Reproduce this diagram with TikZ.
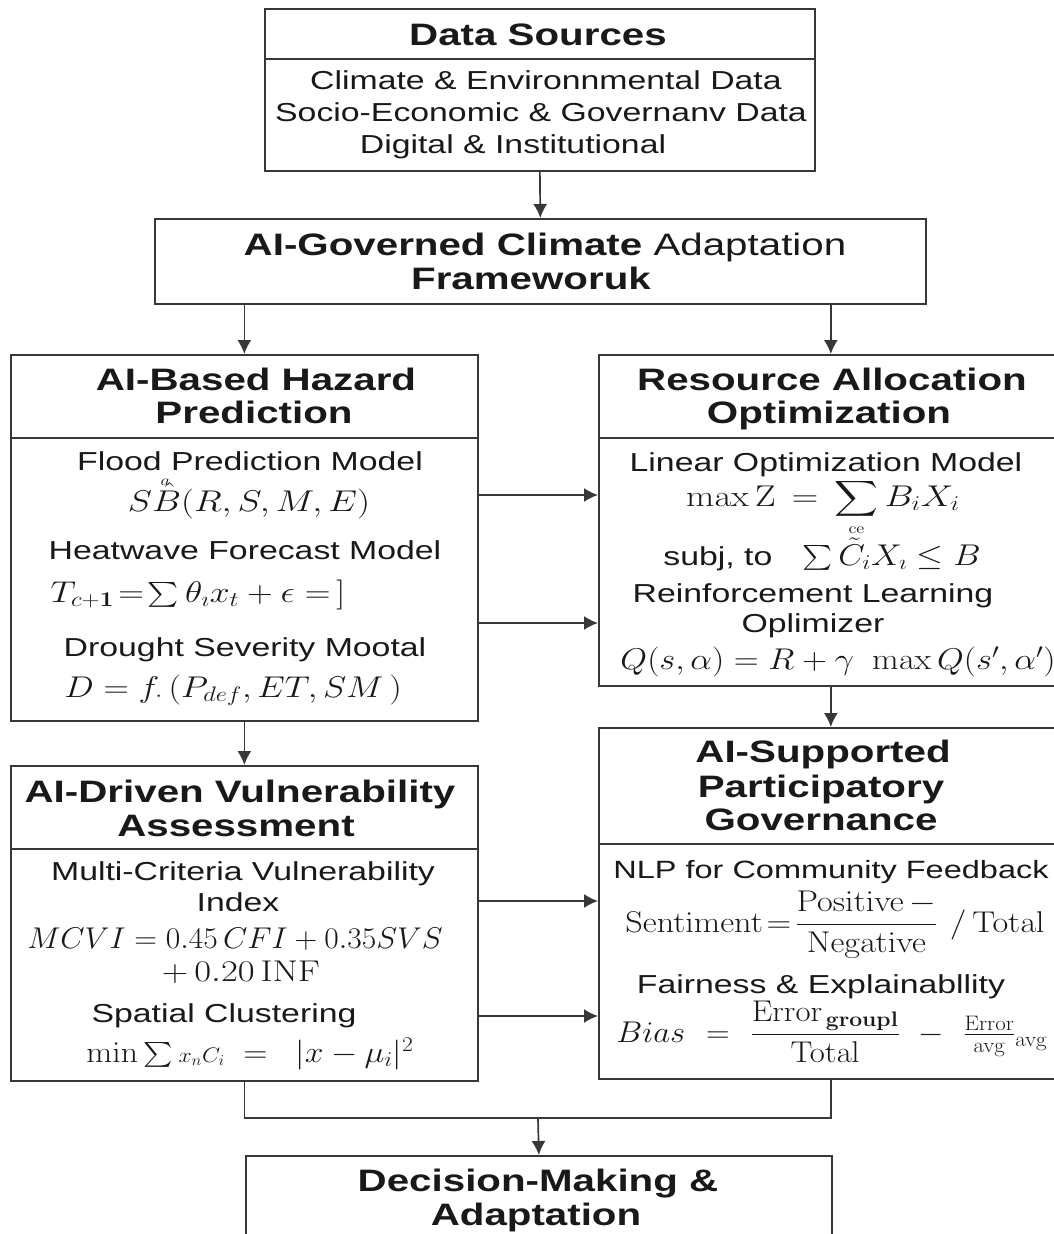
\RequirePackage{fix-cm}
\documentclass[tikz,border=0pt]{standalone}
\usepackage{amsmath}
\usepackage[no-math]{fontspec}
\setmainfont{Liberation Sans}[FakeStretch=1.3]
\usepackage{graphicx}
\usetikzlibrary{arrows.meta}
\newcommand{\mx}[2][1.12]{\scalebox{#1}[1]{#2}}
\begin{document}
\begin{tikzpicture}[x=1pt,y=-1pt,
  box/.style={draw=black!78, line width=1.7pt, rectangle, anchor=north west, inner sep=0pt},
  hd/.style={font=\bfseries\fontsize{31}{34}\selectfont, anchor=base, inner sep=0pt, text=black!90},
  bd/.style={font=\fontsize{26}{32}\selectfont, anchor=base, inner sep=0pt, text=black!90},
  mth/.style={font=\fontsize{30}{34}\selectfont, anchor=base, inner sep=0pt, text=black!90},
  arr/.style={draw=black!78, line width=1.7pt, -{Latex[length=14pt,width=14pt]}},
  ln/.style={draw=black!78, line width=1.7pt}]
\useasboundingbox (0,0) rectangle (1054,1234);
\fill[white] (0,0) rectangle (1054,1234);
\clip (0,0) rectangle (1054,1234);

% ---------- boxes ----------
\node[box, minimum width=550pt, minimum height=50pt] (dsh) at (264,8) {};
\node[box, minimum width=550pt, minimum height=112pt] (dsb) at (264,58) {};
\node[box, minimum width=771pt, minimum height=85pt] (fw) at (154,218) {};
\node[box, minimum width=467pt, minimum height=83pt] (hzh) at (10,354) {};
\node[box, minimum width=467pt, minimum height=283pt] (hzb) at (10,437) {};
\node[box, minimum width=464pt, minimum height=83pt] (rah) at (598,354) {};
\node[box, minimum width=464pt, minimum height=248pt] (rab) at (598,437) {};
\node[box, minimum width=467pt, minimum height=83pt] (vuh) at (10,765) {};
\node[box, minimum width=467pt, minimum height=232pt] (vub) at (10,848) {};
\node[box, minimum width=464pt, minimum height=116pt] (goh) at (598,727) {};
\node[box, minimum width=464pt, minimum height=235pt] (gob) at (598,843) {};
\node[box, minimum width=586pt, minimum height=110pt] (dm) at (245,1155) {};

% ---------- texts ----------
\node[hd] (t-ds) at (538,45) {Data Sources};
\node[bd] (t-ds1) at (546,89) {Climate \& Environnmental Data};
\node[bd] (t-ds2) at (541,121) {Socio-Economic \& Governanv Data};
\node[bd] (t-ds3) at (513,153) {Digital \& Institutional};

\node[hd] (t-fw1) at (545,255) {AI-Governed Climate \mdseries Adaptation};
\node[hd] (t-fw2) at (531,289) {Frameworuk};

\node[hd] (t-hz1) at (256,390) {AI-Based Hazard};
\node[hd] (t-hz2) at (254,423) {Prediction};
\node[bd] (t-hz3) at (250,470) {Flood Prediction Model};
\node[mth] (m-hz1) at (249,511) {\mx[1.22]{$S\hat{B}\llap{\raisebox{0.86em}{$\scriptscriptstyle a$}\hspace{0.3em}}(R,S,M,E)$}};
\node[bd] (t-hz4) at (245,559) {Heatwave Forecast Model};
\node[mth] (m-hz2) at (198,602) {\mx[1.19]{$T_{c+\mathbf{1}}\!=\!\sum\theta_{\imath}x_{t}+\epsilon=\,]$}};
\node[bd] (t-hz5) at (245,656) {Drought Severity Mootal};
\node[mth] (m-hz3) at (233,697) {\mx[1.17]{$D=f_{\cdot}\,(P_{def},ET,SM\,)$}};

\node[hd] (t-ra1) at (832,390) {Resource Allocation};
\node[hd] (t-ra2) at (829,423) {Optimization};
\node[bd] (t-ra3) at (826,471) {Linear Optimization Model};
\node[mth] (m-ra1) at (823,506) {\mx[1.22]{$\max\mathrm{Z}\,=\,\displaystyle\sum_{\scriptscriptstyle\mathrm{ce}}B_{i}X_{i}$}};
\node[mth] (m-ra2) at (822,565) {{\fontsize{26}{32}\selectfont subj, to}\quad\mx[1.15]{$\sum\tilde{C}_{i}X_{\imath}\leq B$}};
\node[bd] (t-ra4) at (813,602) {Reinforcement Learning};
\node[bd] (t-ra5) at (813,632) {Oplimizer};
\node[mth] (m-ra3) at (838,669) {\mx[1.15]{$Q(s,\alpha)=R+\gamma\ \max Q(s',\alpha')$}};

\node[hd] (t-vu1) at (240,802) {AI-Driven Vulnerability};
\node[hd] (t-vu2) at (236,836) {Assessment};
\node[bd] (t-vu3) at (243,880) {Multi-Criteria Vulnerability};
\node[bd] (t-vu4) at (238,911) {Index};
\node[mth] (m-vu1) at (235,948) {\mx[1.05]{$MCVI=0.45\,CFI+0.35SVS$}};
\node[mth] (m-vu2) at (241,981) {\mx[1.22]{$+\,0.20\,\mathrm{INF}$}};
\node[bd] (t-vu5) at (224,1022) {Spatial Clustering};
\node[mth] (m-vu3) at (250,1062) {\mx[1.12]{$\min\sum{\scriptstyle x_{n}C_{i}}\;=\;\;|x-\mu_{i}|^{2}$}};

\node[hd] (t-go1) at (823,762) {AI-Supported};
\node[hd] (t-go2) at (821,797) {Participatory};
\node[hd] (t-go3) at (821,830) {Governance};
\node[bd, font=\fontsize{25}{30}\selectfont] (t-go4) at (831,878) {NLP for Community Feedback};
\node[mth] (m-go1) at (835,932) {\mx[1.14]{$\mathrm{Sentiment}\!=\!\dfrac{\mathrm{Positive}\,-}{\mathrm{Negative}}\ /\,\mathrm{Total}$}};
\node[bd] (t-go5) at (821,993) {Fairness \& Explainabllity};
\node[mth] (m-go2) at (832,1042) {\mx[1.09]{$Bias\ =\ \dfrac{\mathrm{Error}_{\,\mathbf{groupl}}}{\mathrm{Total}}\ -\ \tfrac{\mathrm{Error}}{\mathrm{avg}}{}_{\mathrm{avg}}$}};

\node[hd] (t-dm1) at (538,1191) {Decision-Making \&};
\node[hd] (t-dm2) at (536,1225) {Adaptation};

% ---------- connectors ----------
\coordinate (ya) at (0,495);
\coordinate (yb) at (0,623);
\coordinate (yc) at (0,901);
\coordinate (yd) at (0,1016);
\coordinate (jn) at (538,1118);
\draw[arr] (dsb.south) -- (fw.north);
\draw[arr] (fw.south -| hzh.north) -- (hzh.north);
\draw[arr] (fw.south -| rah.north) -- (rah.north);
\draw[arr] (hzb.east |- ya) -- (rab.west |- ya);
\draw[arr] (hzb.east |- yb) -- (rab.west |- yb);
\draw[arr] (hzb.south) -- (vuh.north);
\draw[arr] (rab.south) -- (goh.north);
\draw[arr] (vub.east |- yc) -- (gob.west |- yc);
\draw[arr] (vub.east |- yd) -- (gob.west |- yd);
\draw[ln] (vub.south) |- (jn) -| (gob.south);
\draw[arr] (jn) -- (dm.north);
\end{tikzpicture}
\end{document}
